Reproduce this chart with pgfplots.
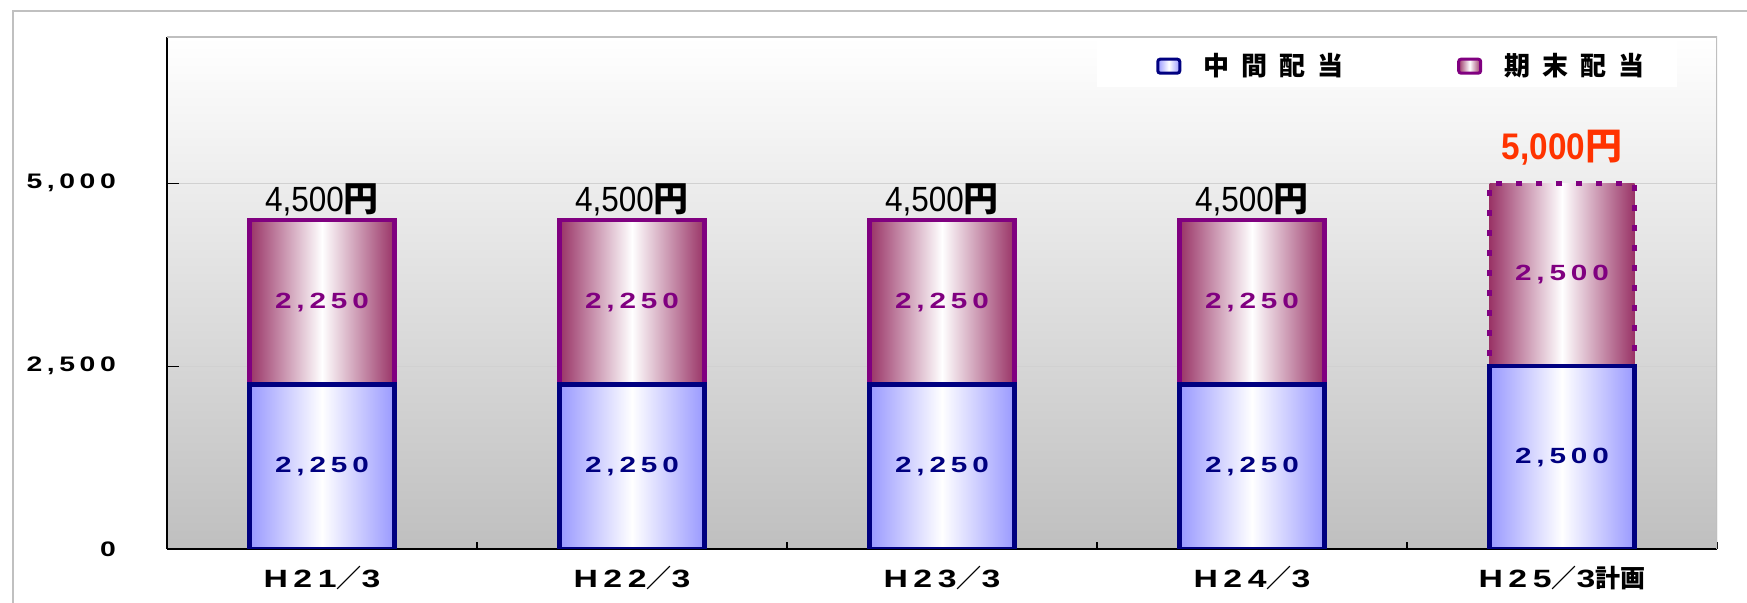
\documentclass[border=0pt]{standalone}
\usepackage{fontspec}
\setmainfont{Liberation Sans}
\newfontfamily\cjk{Noto Sans CJK JP}
\newfontfamily\cjkwide[LetterSpace=46]{Noto Sans CJK JP}
\newfontfamily\wide[FakeStretch=1.35,LetterSpace=22]{Liberation Sans}
\newfontfamily\narrow[FakeStretch=0.9]{Liberation Sans}
\protected\def\J#1{{\cjk\bfseries #1}}
\protected\def\W#1{{\wide\bfseries #1}}
\protected\def\YT{\fontsize{10.5pt}{12pt}\wide\bfseries}
\protected\def\XT{\fontsize{12.5pt}{14pt}\selectfont\bfseries}
\protected\def\IN{\fontsize{11pt}{13pt}\wide\bfseries}
\protected\def\TT{\fontsize{17.5pt}{19pt}\narrow}
\protected\def\TR{\fontsize{18.5pt}{20pt}\narrow\bfseries}
\protected\def\LG{\fontsize{13pt}{15pt}\cjkwide\bfseries}
\protected\def\EN{\J{円}}
\usepackage{pgfplots}
\pgfplotsset{compat=1.18}
\definecolor{navyb}{HTML}{000080}
\definecolor{purp}{HTML}{800080}
\definecolor{lav}{HTML}{9999FF}
\definecolor{mauve}{HTML}{993366}
\definecolor{redl}{HTML}{FF3300}
\definecolor{framegray}{HTML}{C0C0C0}
\pgfplotsset{
  common/.style={at={(83.5pt,27pt)}, anchor=south west, scale only axis,
    width=775pt, height=256pt, enlargelimits=false,
    xmin=-0.5, xmax=4.5, ymin=0, ymax=7000},
  barax/.style={common, ybar stacked, bar width=72.5pt},
  hidden/.style={hide axis},
  boxleg/.style={legend image code/.code={\draw[##1, line width=1.5pt, solid, rounded corners=1.2pt] (0pt,-3.5pt) rectangle (11pt,3.5pt);}},
  lowstyle/.style={draw=navyb, line width=2.3pt, left color=lav, right color=lav, middle color=white, boxleg},
  upstyle/.style={draw=purp, line width=2.3pt, left color=mauve, right color=mauve, middle color=white, boxleg},
}
\begin{document}
\begin{tikzpicture}
\path[use as bounding box] (0,0) rectangle (873.5pt,301.5pt);
\draw[framegray, line width=1pt] (6.5pt,-10pt) -- (6.5pt,296pt) -- (890pt,296pt);
% axis 1: frame, ticks, legend, bar H21/3
\begin{axis}[barax,
  axis background/.style={top color=white, bottom color=black!25},
  axis x line*=bottom, axis y line*=left,
  axis line style={black, line width=0.6pt},
  tick align=inside,
  major tick length=6pt,
  ytick={0,2500,5000}, yticklabels={0,{2,500},{5,000}},
  ymajorgrids, major grid style={black!18, line width=0.6pt},
  ytick style={black, line width=0.6pt},
  yticklabel style={font=\YT, anchor=east, xshift=-22pt},
  xtick={0,1,2,3,4},
  xticklabels={{\W{H21}\J{／}\W{3}},{\W{H22}\J{／}\W{3}},{\W{H23}\J{／}\W{3}},{\W{H24}\J{／}\W{3}},{\W{H25}\J{／}\W{3}\J{計画}}},
  xticklabel style={font=\XT, yshift=-5pt},
  xtick style={draw=none},
  extra x ticks={0.5,1.5,2.5,3.5,4.5},
  extra x tick labels={},
  extra x tick style={major tick length=3.5pt, xtick style={draw=black, line width=0.6pt}},
  legend columns=2,
  legend style={at={(0.638,0.943)}, anchor=west, draw=none, fill=none,
    inner xsep=0pt, inner ysep=0pt, font=\LG,
    /tikz/every odd column/.append style={column sep=9pt},
    /tikz/every even column/.append style={column sep=55pt}},
]
\fill[white] (rel axis cs:0.6,0.902) rectangle (rel axis cs:0.974,0.992);
\addplot[lowstyle] coordinates {(0,2250)};
\addplot[upstyle] coordinates {(0,2250)};
\legend{中間配当,期末配当}
\draw[black!25, line width=0.8pt] (rel axis cs:0,1) -- (rel axis cs:1,1) -- (rel axis cs:1,0);
\node[font=\fontsize{12pt}{14pt}\cjk\bfseries] at (rel axis cs:0,1) [xshift=-29.75pt, yshift=-4pt] {（円）};
\end{axis}
% bars H22/3 .. H24/3
\begin{axis}[barax, hidden]
\addplot[lowstyle] coordinates {(1,2250)};
\addplot[upstyle] coordinates {(1,2250)};
\end{axis}
\begin{axis}[barax, hidden]
\addplot[lowstyle] coordinates {(2,2250)};
\addplot[upstyle] coordinates {(2,2250)};
\end{axis}
\begin{axis}[barax, hidden]
\addplot[lowstyle] coordinates {(3,2250)};
\addplot[upstyle] coordinates {(3,2250)};
\end{axis}
% bar H25/3 plan
\begin{axis}[barax, hidden]
\addplot[lowstyle] coordinates {(4,2500)};
\addplot[upstyle, dash pattern=on 3pt off 7pt] coordinates {(4,2500)};
\end{axis}
% value labels
\begin{axis}[common, hidden]
\addplot[sharp plot, draw=none, nodes near coords, point meta=explicit symbolic,
  every node near coord/.append style={anchor=center, text=navyb, font=\IN}]
  coordinates {(0,1125) [2,250] (1,1125) [2,250] (2,1125) [2,250] (3,1125) [2,250] (4,1250) [2,500]};
\addplot[sharp plot, draw=none, nodes near coords, point meta=explicit symbolic,
  every node near coord/.append style={anchor=center, text=purp, font=\IN}]
  coordinates {(0,3375) [2,250] (1,3375) [2,250] (2,3375) [2,250] (3,3375) [2,250] (4,3750) [2,500]};
\addplot[sharp plot, draw=none, nodes near coords={\pgfplotspointmeta\EN}, point meta=explicit symbolic,
  every node near coord/.append style={anchor=center, text=black, font=\TT}]
  coordinates {(0,4773) [4,500] (1,4773) [4,500] (2,4773) [4,500] (3,4773) [4,500]};
\addplot[sharp plot, draw=none, nodes near coords={\pgfplotspointmeta\EN}, point meta=explicit symbolic,
  every node near coord/.append style={anchor=center, text=redl, font=\TR}]
  coordinates {(4,5492) [5,000]};
\end{axis}
\end{tikzpicture}
\end{document}
